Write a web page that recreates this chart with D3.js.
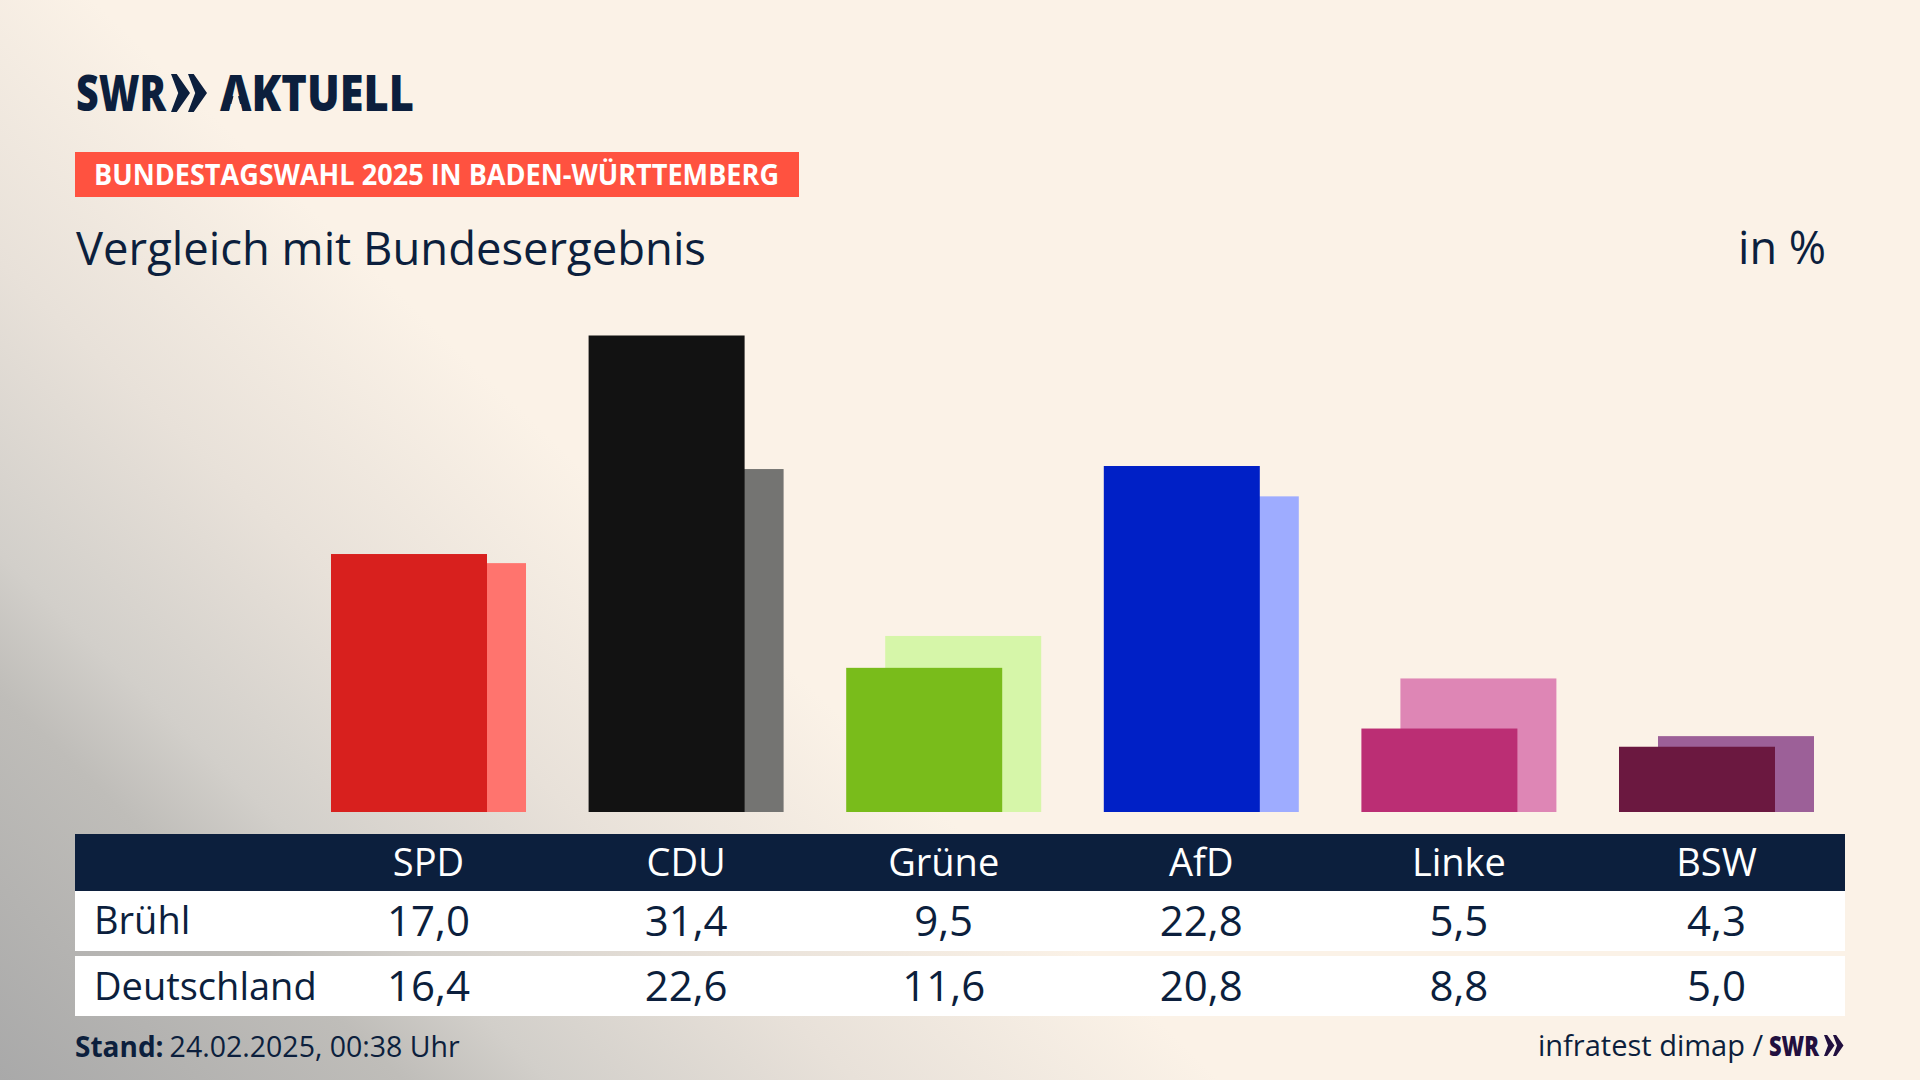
<!DOCTYPE html>
<html>
<head>
<meta charset="utf-8">
<script src="https://cdn.jsdelivr.net/npm/d3@7"></script>
<style>
html,body{margin:0;padding:0;background:#fbf2e7;overflow:hidden}
svg{display:block}
text{font-family:"Open Sans",sans-serif;fill:#0c1f3d}
</style>
</head>
<body>
<svg width="1920" height="1080"></svg>
<script>
var parties=["SPD","CDU","Grüne","AfD","Linke","BSW"];
var bruehl=[17.0,31.4,9.5,22.8,5.5,4.3];
var deutschland=[16.4,22.6,11.6,20.8,8.8,5.0];
var rowNames=["Brühl","Deutschland"];
var darkColors=["#d8201e","#121212","#79bc1b","#0020c6","#bb2e74","#6b1840"];
var lightColors=["#ff746e","#747472","#d6f6a9","#9eacff","#de86b5","#9c6098"];

var navy="#0c1f3d";
var fmt=function(v){return v.toFixed(1).replace(".",",");};

var svg=d3.select("svg");

// hintergrund
var defs=svg.append("defs");
var grad=defs.append("linearGradient").attr("id","bg")
    .attr("gradientUnits","userSpaceOnUse")
    .attr("x1",0).attr("y1",1080).attr("x2",584).attr("y2",470);
[[0,"#a9a9a9"],[0.33,"#bfbdb9"],[0.45,"#d2cfca"],[0.7,"#e8e1d9"],[1,"#fbf2e7"]].forEach(function(s){
    grad.append("stop").attr("offset",s[0]).attr("stop-color",s[1]);
});
svg.append("rect").attr("width",1920).attr("height",1080).attr("fill","url(#bg)");

// logo
function chevrons(g,x,y,h,w,gap){
    [0,1].forEach(function(i){
        var x0=x+i*gap;
        g.append("path")
            .attr("d","M"+x0+","+y+"L"+(x0+w*0.3)+","+y+"L"+(x0+w)+","+(y+h/2)+"L"+(x0+w*0.3)+","+(y+h)+"L"+x0+","+(y+h)+"L"+(x0+w*0.38)+","+(y+h/2)+"Z")
            .attr("fill","currentColor");
    });
}
svg.append("text").attr("x",76).attr("y",111).attr("font-size",50).attr("font-weight",800)
    .attr("textLength",90).attr("lengthAdjust","spacingAndGlyphs").text("SWR");
chevrons(svg.append("g").style("color",navy),171,74,38,19,17);
var aktuell=svg.append("text").attr("x",220).attr("y",111).attr("font-size",50).attr("font-weight",800)
    .attr("textLength",194).attr("lengthAdjust","spacingAndGlyphs").text("AKTUELL");
// das A im logo hat keinen querstrich
var aBox=aktuell.node().getExtentOfChar(0);
var aMid=aBox.x+aBox.width/2;
svg.append("path")
    .attr("d","M"+aMid+",88L"+(aMid+aBox.width*0.2)+",111L"+(aMid-aBox.width*0.2)+",111Z")
    .attr("fill","url(#bg)");

// titel
svg.append("rect").attr("x",75).attr("y",152).attr("width",724).attr("height",45).attr("fill","#ff5240");
svg.append("text").attr("x",94).attr("y",185).attr("font-size",29).attr("font-weight",700)
    .attr("textLength",685).attr("lengthAdjust","spacingAndGlyphs")
    .style("fill","#fff").text("BUNDESTAGSWAHL 2025 IN BADEN-WÜRTTEMBERG");
svg.append("text").attr("x",76).attr("y",265).attr("font-size",45)
    .attr("textLength",630).attr("lengthAdjust","spacingAndGlyphs").text("Vergleich mit Bundesergebnis");
svg.append("text").attr("x",1826).attr("y",264).attr("font-size",45).attr("text-anchor","end")
    .attr("textLength",88).attr("lengthAdjust","spacingAndGlyphs").text("in %");

// balken
var x=d3.scaleBand().domain(parties).range([331,1814]).paddingInner(0.243).paddingOuter(0);
var y=d3.scaleLinear().domain([0,31.4]).range([812,335.5]);
var barW=x.bandwidth()*0.8;
var off=x.bandwidth()-barW;

svg.selectAll(".light").data(parties).enter().append("rect").attr("class","light")
    .attr("x",function(d){return x(d)+off;})
    .attr("y",function(d,i){return y(deutschland[i]);})
    .attr("width",barW)
    .attr("height",function(d,i){return y(0)-y(deutschland[i]);})
    .attr("fill",function(d,i){return lightColors[i];});
svg.selectAll(".dark").data(parties).enter().append("rect").attr("class","dark")
    .attr("x",function(d){return x(d);})
    .attr("y",function(d,i){return y(bruehl[i]);})
    .attr("width",barW)
    .attr("height",function(d,i){return y(0)-y(bruehl[i]);})
    .attr("fill",function(d,i){return darkColors[i];});

// tabelle
svg.append("rect").attr("x",75).attr("y",834).attr("width",1770).attr("height",57).attr("fill",navy);
svg.append("rect").attr("x",75).attr("y",891).attr("width",1770).attr("height",60).attr("fill","#fff");
svg.append("rect").attr("x",75).attr("y",956).attr("width",1770).attr("height",60).attr("fill","#fff");

var cx=function(d){return x(d)+x.bandwidth()/2;};
svg.selectAll(".head").data(parties).enter().append("text").attr("class","head")
    .attr("x",cx).attr("y",876).attr("font-size",38).attr("text-anchor","middle")
    .style("fill","#fff").text(function(d){return d;});

[bruehl,deutschland].forEach(function(vals,r){
    var base=r==0?936:1001;
    svg.append("text").attr("x",94).attr("y",r==0?934:1000).attr("font-size",38).text(rowNames[r]);
    svg.selectAll(".row"+r).data(parties).enter().append("text").attr("class","row"+r)
        .attr("x",cx).attr("y",base).attr("font-size",42).attr("text-anchor","middle")
        .text(function(d,i){return fmt(vals[i]);});
});

// fusszeile
var stand=svg.append("text").attr("x",75).attr("y",1057).attr("font-size",28.5);
stand.append("tspan").attr("font-weight",700).attr("font-size",28).text("Stand:");
stand.append("tspan").attr("dx",6).text("24.02.2025, 00:38 Uhr");
svg.append("text").attr("x",1538).attr("y",1056).attr("font-size",29).text("infratest dimap /");
svg.append("text").attr("x",1769).attr("y",1056).attr("font-size",29).attr("font-weight",800)
    .attr("textLength",50).attr("lengthAdjust","spacingAndGlyphs").style("fill","#22103f").text("SWR");
chevrons(svg.append("g").style("color","#22103f"),1824,1035,21,10.5,9);
</script>
</body>
</html>
